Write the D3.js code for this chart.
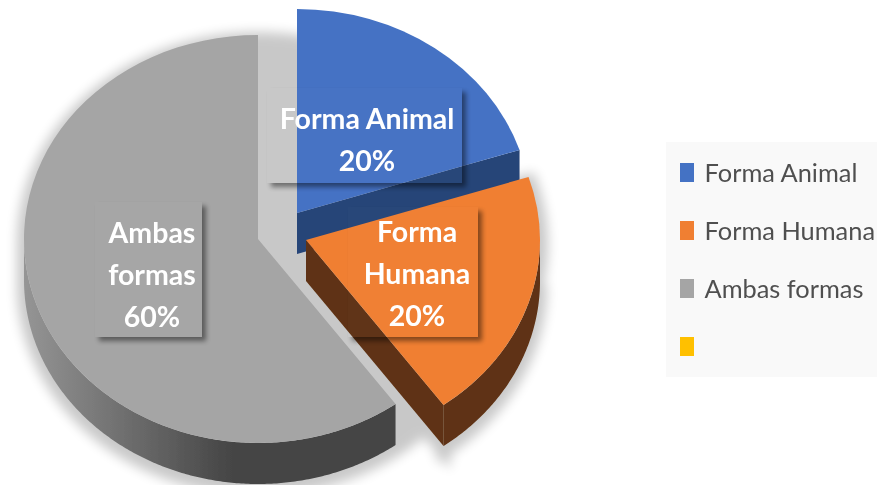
<!DOCTYPE html>
<html>
<head>
<meta charset="utf-8">
<script src="https://cdn.jsdelivr.net/npm/d3@7"></script>
<style>
  html, body { margin: 0; padding: 0; background: #fff; overflow: hidden; }
  text { font-family: Lato, "Open Sans", sans-serif; }
</style>
</head>
<body>
<div id="graf"></div>
<script>
// I. Datos
categorias = ['Forma Animal', 'Forma Humana', 'Ambas formas', '']
valores = [20, 20, 60, 0]
lineas = [['Forma Animal'], ['Forma', 'Humana'], ['Ambas', 'formas']]
colores = ['#4472c4', '#f07f32', '#a5a5a5', '#ffc000']
coloresLado = ['#264478', '#5f3112', '#444444']

// II. Configuracion
ancho = 877
alto = 485
rx = 234
ry = 204
fondo = 41
centros = [[297, 213], [306, 240], [258, 239]]
cajas = [[267, 88, 195, 95], [348, 207, 130, 130], [95, 202, 107, 135]]
textos = [[367, 129], [417, 242], [152, 243]]

svg = d3.select('#graf').append('svg')
        .attr('width', ancho)
        .attr('height', alto)
        .style('display', 'block')

defs = svg.append('defs')

defs.append('filter').attr('id', 'sombra')
        .attr('x', '-20%').attr('y', '-20%').attr('width', '140%').attr('height', '140%')
        .append('feGaussianBlur').attr('stdDeviation', 6)

defs.append('filter').attr('id', 'sombraCaja')
        .attr('x', '-20%').attr('y', '-20%').attr('width', '140%').attr('height', '140%')
        .append('feGaussianBlur').attr('stdDeviation', 2.5)

defs.append('filter').attr('id', 'suave')
        .append('feGaussianBlur').attr('stdDeviation', 0.45)

degradado = defs.append('linearGradient').attr('id', 'ladoGris')
        .attr('gradientUnits', 'userSpaceOnUse')
        .attr('x1', centros[2][0] - rx).attr('x2', 235)
        .attr('y1', 0).attr('y2', 0)
degradado.append('stop').attr('offset', '0%').attr('stop-color', '#959595')
degradado.append('stop').attr('offset', '100%').attr('stop-color', coloresLado[2])

pie = d3.pie().sort(null).value(d => d)
arcos = pie(valores)

arco = d3.arc().innerRadius(0).outerRadius(ry)

// Punto de la elipse para un angulo, medido desde las 12 en sentido horario
function punto(c, a, dy) {
        return [c[0] + rx * Math.sin(a), c[1] - ry * Math.cos(a) + dy]
}

// Contorno de la pared exterior entre dos angulos
function pared(c, a0, a1) {
        angulos = d3.range(a0, a1, 0.01).concat([a1])
        return angulos.map(a => punto(c, a, 0))
                .concat(angulos.slice().reverse().map(a => punto(c, a, fondo)))
}

// Cara radial que se ve de frente, entre el vertice y el borde
function cara(c, a) {
        return [c, punto(c, a, 0), punto(c, a, fondo), [c[0], c[1] + fondo]]
}

linea = d3.line()
derecha = Math.PI / 2
izquierda = 3 * Math.PI / 2

// III. Sombra de todo el pastel
sombra = svg.append('g')
        .attr('filter', 'url(#sombra)')
        .attr('opacity', 0.21)
        .attr('transform', 'translate(0, 4)')
        .attr('stroke', '#000')
        .attr('stroke-width', 14)

sombra.append('ellipse')
        .attr('cx', centros[2][0]).attr('cy', centros[2][1])
        .attr('rx', rx).attr('ry', ry)
sombra.append('ellipse')
        .attr('cx', centros[2][0]).attr('cy', centros[2][1] + fondo)
        .attr('rx', rx).attr('ry', ry)
sombra.append('path')
        .attr('d', linea(pared(centros[2], arcos[2].startAngle - 0.6, izquierda)))
sombra.append('path')
        .attr('d', linea(pared(centros[1], derecha, arcos[1].endAngle)))
sombra.append('path')
        .attr('transform', `translate(${centros[1]}) scale(${rx / ry}, 1)`)
        .attr('d', arco(arcos[1]))
sombra.append('path')
        .attr('d', linea(cara(centros[1], arcos[1].endAngle)))

// IV. Porciones
function porcion(i, paredes) {
        g = svg.append('g').attr('filter', 'url(#suave)')
        paredes.forEach(p => {
                g.append('path')
                        .attr('d', linea(p))
                        .attr('fill', i == 2 ? 'url(#ladoGris)' : coloresLado[i])
        })
        g.append('path')
                .attr('transform', `translate(${centros[i]}) scale(${rx / ry}, 1)`)
                .attr('d', arco(arcos[i]))
                .attr('fill', colores[i])
}

porcion(2, [pared(centros[2], arcos[2].startAngle, izquierda)])
porcion(0, [cara(centros[0], arcos[0].endAngle)])
porcion(1, [cara(centros[1], arcos[1].endAngle), pared(centros[1], derecha, arcos[1].endAngle)])

// V. Etiquetas: caja sin relleno, la sombra solo se ve por fuera
cajas.forEach((c, i) => {
        recorte = defs.append('clipPath').attr('id', 'fuera' + i)
        recorte.append('path')
                .attr('clip-rule', 'evenodd')
                .attr('d', `M0,0H${ancho}V${alto}H0Z M${c[0]},${c[1]}h${c[2]}v${c[3]}h${-c[2]}Z`)

        svg.append('g').attr('clip-path', `url(#fuera${i})`)
                .append('rect')
                .attr('x', c[0] + 4).attr('y', c[1] + 4)
                .attr('width', c[2]).attr('height', c[3])
                .attr('fill', '#000')
                .attr('opacity', 0.45)
                .attr('filter', 'url(#sombraCaja)')

        svg.append('rect')
                .attr('x', c[0]).attr('y', c[1])
                .attr('width', c[2]).attr('height', c[3])
                .attr('fill', '#fff')
                .attr('opacity', 0.012)

        t = svg.append('text')
                .attr('text-anchor', 'middle')
                .attr('font-size', 28.5)
                .attr('font-weight', 700)
                .attr('fill', '#fff')
                .attr('filter', 'url(#suave)')

        lineas[i].concat([valores[i] + '%']).forEach((l, j) => {
                t.append('tspan')
                        .attr('x', textos[i][0])
                        .attr('y', textos[i][1] + j * 42)
                        .text(l)
        })
})

// VI. Leyenda
leyenda = svg.append('g')

leyenda.append('rect')
        .attr('x', 666).attr('y', 142)
        .attr('width', ancho - 666).attr('height', 235)
        .attr('fill', '#f9f9f9')

yLeyenda = d3.scalePoint()
        .domain(d3.range(categorias.length))
        .range([172.5, 346.5])

filas = leyenda.selectAll('g')
        .data(categorias)
        .enter().append('g')
        .attr('transform', (d, i) => `translate(680, ${yLeyenda(i)})`)

filas.append('rect')
        .attr('y', -9.5)
        .attr('width', 14)
        .attr('height', 19)
        .attr('fill', (d, i) => colores[i])

filas.append('text')
        .attr('x', 24.5)
        .attr('y', 9)
        .attr('font-size', 25.4)
        .attr('fill', '#505050')
        .attr('filter', 'url(#suave)')
        .text(d => d)
</script>
</body>
</html>
